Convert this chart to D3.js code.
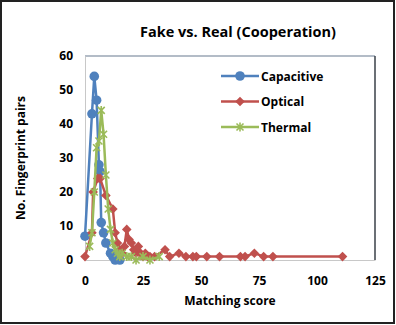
<!DOCTYPE html>
<html lang="en">
<head>
<meta charset="UTF-8">
<title>Fake vs. Real (Cooperation)</title>
<script src="https://d3js.org/d3.v7.min.js"></script>
<style>
    body { margin: 0; background: #fff; }
    text { font-family: "Open Sans", "Liberation Sans", sans-serif; font-weight: bold; fill: #000; }
</style>
</head>
<body>
<svg id="chart" width="396" height="325"></svg>
<script>
    // matching score / number of fingerprint pairs
    const capacitiveX = [0, 3, 4, 5, 6, 6.5, 7, 8, 9, 11, 12, 13, 14, 15];
    const capacitiveY = [7, 43, 54, 47, 28, 26, 11, 8, 5, 2, 1, 0, 1, 0];

    const opticalX = [0, 3, 3.5, 5.5, 6.5, 9, 12, 13, 14, 15, 16, 17, 18, 19, 20, 21, 22, 23, 24, 25, 26, 27, 28, 30,
                      34.5, 36.5, 40.5, 43.5, 46.5, 48, 52.5, 58, 67, 69, 73, 77, 81, 111];
    const opticalY = [1, 8, 20, 24, 24, 19, 15, 8, 5, 3, 2, 4, 9, 6, 5, 3, 2, 4, 2, 1, 2, 1, 1, 1,
                      3, 1, 2, 1, 1, 1, 1, 1, 1, 1, 2, 1, 1, 1];

    const thermalX = [2, 3, 4, 5, 6, 7, 8, 9, 10, 11, 12, 13, 14, 15, 16, 18, 20, 22, 25, 28, 32];
    const thermalY = [4, 8, 20, 33, 35, 44, 37, 25, 15, 9, 5, 3, 2, 1, 2, 1, 1, 0, 1, 0, 1];

    const xTicks = [0, 25, 50, 75, 100, 125];
    const yTicks = [0, 10, 20, 30, 40, 50, 60];

    const series = [
        { name: "Capacitive", xs: capacitiveX, ys: capacitiveY, color: "#4f81bd", marker: "circle" },
        { name: "Optical", xs: opticalX, ys: opticalY, color: "#c0504d", marker: "diamond" },
        { name: "Thermal", xs: thermalX, ys: thermalY, color: "#9bbb59", marker: "star" }
    ];

    const svg = d3.select("#chart");
    const plotL = 85, plotR = 375, plotT = 56, plotB = 260;

    const x = d3.scaleLinear().domain([0, 125]).range([plotL, plotR]);
    const y = d3.scaleLinear().domain([0, 60]).range([plotB, plotT]);

    // outer frame
    svg.append("rect").attr("x", 1).attr("y", 1).attr("width", 393).attr("height", 322)
        .attr("fill", "none").attr("stroke", "#222").attr("stroke-width", 2);

    // plot area borders
    svg.append("line").attr("x1", plotL).attr("x2", plotR).attr("y1", plotT).attr("y2", plotT)
        .attr("stroke", "#9aa6b4").attr("stroke-width", 1.5);
    svg.append("line").attr("x1", plotR).attr("x2", plotR).attr("y1", plotT).attr("y2", plotB)
        .attr("stroke", "#3a4048").attr("stroke-width", 1.5);

    // axes
    const xAxis = svg.append("g").attr("transform", `translate(0,${plotB})`)
        .call(d3.axisBottom(x).tickValues(xTicks).tickSize(0).tickPadding(16));
    const yAxis = svg.append("g").attr("transform", `translate(${plotL},0)`)
        .call(d3.axisLeft(y).tickValues(yTicks).tickSize(0).tickPadding(12));
    [xAxis, yAxis].forEach(a => {
        a.select(".domain").attr("stroke", "#c8c8c8").attr("stroke-width", 1);
        a.selectAll("text").style("font-size", "12px").style("font-family", "Open Sans, sans-serif")
            .style("font-weight", "bold").attr("fill", "#000");
    });

    const line = d3.line().x(d => x(d[0])).y(d => y(d[1]));

    function marker(g, type, color) {
        if (type === "circle") {
            g.append("circle").attr("r", 4.8).attr("fill", color);
        } else if (type === "diamond") {
            g.append("path").attr("d", "M0,-4.8L4.8,0L0,4.8L-4.8,0Z").attr("fill", color);
        } else {
            g.append("path").attr("d", "M-3.5,-3.5L3.5,3.5M-3.5,3.5L3.5,-3.5M0,-4.5L0,4.5")
                .attr("stroke", color).attr("stroke-width", 1.6).attr("fill", "none");
        }
    }

    // draw in order so thermal ends up on top
    series.forEach(s => {
        const pts = s.xs.map((v, i) => [v, s.ys[i]]);
        svg.append("path").datum(pts).attr("d", line)
            .attr("fill", "none").attr("stroke", s.color).attr("stroke-width", 2.5);
        svg.selectAll(null).data(pts).enter().append("g")
            .attr("transform", d => `translate(${x(d[0])},${y(d[1])})`)
            .each(function () { marker(d3.select(this), s.marker, s.color); });
    });

    // legend
    series.forEach((s, i) => {
        const ly = 76 + i * 25.5;
        svg.append("line").attr("x1", 221).attr("x2", 259).attr("y1", ly).attr("y2", ly)
            .attr("stroke", s.color).attr("stroke-width", 2.5);
        const g = svg.append("g").attr("transform", `translate(240,${ly})`);
        marker(g, s.marker, s.color);
        svg.append("text").attr("x", 261).attr("y", ly + 4.5).style("font-size", "12px").text(s.name);
    });

    // title and axis labels
    svg.append("text").attr("x", 238).attr("y", 37).attr("text-anchor", "middle")
        .style("font-size", "14.5px").text("Fake vs. Real (Cooperation)");
    svg.append("text").attr("x", 230).attr("y", 305).attr("text-anchor", "middle")
        .style("font-size", "12px").text("Matching score");
    svg.append("text").attr("transform", "translate(25,158) rotate(-90)").attr("text-anchor", "middle")
        .style("font-size", "12px").text("No. Fingerprint pairs");
</script>
</body>
</html>
